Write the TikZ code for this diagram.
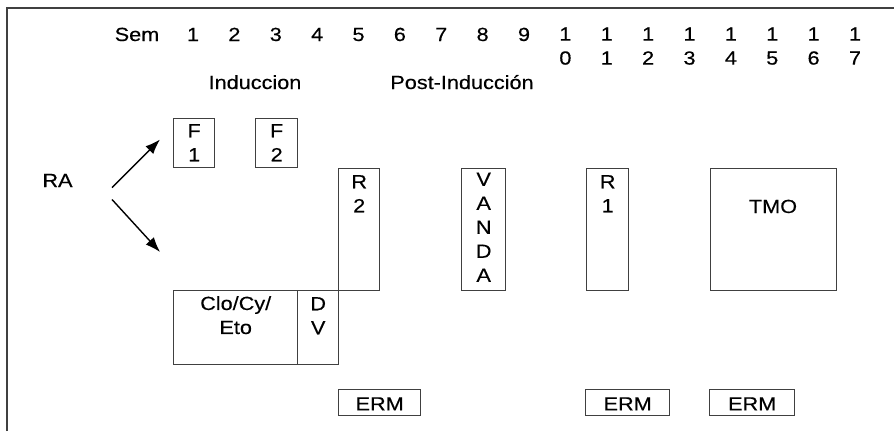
\documentclass[tikz,border=0pt]{standalone}
\usepackage{fontspec}
\setmainfont{Liberation Sans}[FakeStretch=1.14,FakeBold=0.4]
\usetikzlibrary{arrows.meta}
\begin{document}
\begin{tikzpicture}[x=1pt,y=-1pt,
  txt/.style={inner sep=0pt, text=black, font=\fontsize{19}{24}\selectfont},
  stack/.style={txt, align=center, anchor=north},
  box/.style={draw=black!75, line width=1.4pt, inner sep=0pt, anchor=north west},
  arr/.style={draw=black, line width=1.4pt, -{Latex[length=15pt,width=11pt]}}]
\useasboundingbox (0,0) rectangle (894,431);
% frame
\draw[black!75, line width=1.5pt] (7,431) -- (7,8) -- (894,8);
% header
\node[txt, anchor=base] (sem) at (137,41) {Sem};
\foreach \k in {1,...,9}
  \node[txt, anchor=base] (n\k) at ({193+(\k-1)*41.375},41) {\k};
\foreach \k in {10,...,17}{
  \pgfmathtruncatemacro\dd{\k-10}
  \node[stack] (n\k) at ({193+(\k-1)*41.375},27.3) {1\\\dd};
}
\node[txt, anchor=base] (ind) at (255,89) {Induccion};
\node[txt, anchor=base] (post) at (462,89) {Post-Inducción};
% boxes
\node[box, minimum width=41pt, minimum height=49pt] (f1) at (173,118) {};
\node[box, minimum width=42pt, minimum height=49pt] (f2) at (255,118) {};
\node[box, minimum width=41pt, minimum height=122pt] (r2) at (338,168) {};
\node[box, minimum width=44pt, minimum height=122pt] (vanda) at (461,168) {};
\node[box, minimum width=42pt, minimum height=122pt] (r1) at (586,168) {};
\node[box, minimum width=126pt, minimum height=122pt] (tmo) at (710,168) {};
\node[box, minimum width=124pt, minimum height=74pt] (clo) at (173,290) {};
\node[box, minimum width=41pt, minimum height=74pt] (dv) at (297,290) {};
\node[box, minimum width=82pt, minimum height=26pt] (erm1) at (338,389) {};
\node[box, minimum width=84pt, minimum height=26pt] (erm2) at (585,389) {};
\node[box, minimum width=85pt, minimum height=26pt] (erm3) at (709,389) {};
% box texts
\node[stack] (tf1) at ([yshift=-6pt]f1.north) {F\\1};
\node[stack] (tf2) at ([yshift=-6pt]f2.north) {F\\2};
\node[stack] (tr2) at ([yshift=-7pt]r2.north) {R\\2};
\node[stack] (tv) at ([yshift=-4.5pt]vanda.north) {V\\A\\N\\D\\A};
\node[stack] (tr1) at ([yshift=-7pt]r1.north) {R\\1};
\node[txt, anchor=base] (ttmo) at (773,213) {TMO};
\node[stack] (tclo) at ([yshift=-6pt]clo.north) {Clo/Cy/\\Eto};
\node[stack] (tdv) at ([yshift=-7pt]dv.north) {D\\V};
\foreach \e in {erm1,erm2,erm3}
  \node[txt, anchor=base] at ([yshift=6pt]\e.south) {ERM};
% RA and arrows
\node[txt, anchor=base] (ra) at (57.5,187) {RA};
\coordinate (up) at (160,139.5);
\coordinate (dn) at (160,252);
\draw[arr] ([xshift=54.5pt,yshift=-0.7pt]ra.base) -- (up);
\draw[arr] ([xshift=54.5pt,yshift=-12.5pt]ra.base) -- (dn);
\end{tikzpicture}
\end{document}
